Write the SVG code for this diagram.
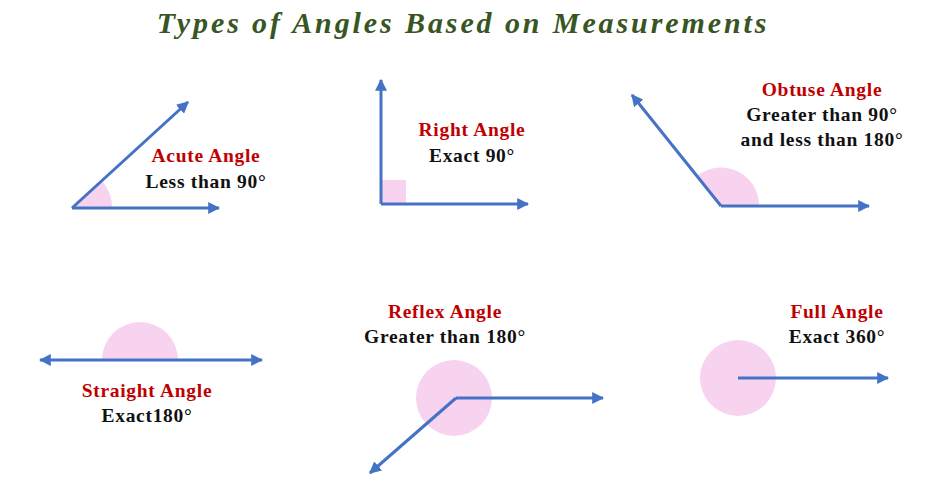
<svg xmlns="http://www.w3.org/2000/svg" width="945" height="499" viewBox="0 0 945 499">
<style>
.t{font-family:"Liberation Serif","DejaVu Serif",serif;font-weight:bold;font-size:19.5px;letter-spacing:0.7px;text-anchor:middle}
.r{fill:#c00000}.k{fill:#111}
.ln{stroke:#4472c4;stroke-width:3;fill:none;marker-end:url(#a)}
.p{fill:#f8d3f0}
</style>
<defs><marker id="a" viewBox="0 0 10 10" refX="9" refY="5" markerWidth="4" markerHeight="4" orient="auto" markerUnits="strokeWidth"><path d="M0,0L10,5L0,10z" fill="#4472c4"/></marker></defs>
<rect width="945" height="499" fill="#fff"/>
<text x="463" y="33" font-family="Liberation Serif,serif" font-style="italic" font-weight="bold" font-size="30" fill="#375623" text-anchor="middle" letter-spacing="2.9">Types of Angles Based on Measurements</text>
<g id="acute"><path class="p" d="M72,208L112,208A40,40 0 0 0 102,181Z"/>
<text class="t r" x="206" y="162">Acute Angle</text><text class="t k" x="206" y="188">Less than 90°</text></g>
<g id="right"><rect class="p" x="381" y="180" width="25" height="24"/>
<text class="t r" x="472" y="136">Right Angle</text><text class="t k" x="472" y="162">Exact 90°</text></g>
<g id="obtuse"><path class="p" d="M721,206L759,206A38,38 0 0 0 697,176Z"/>
<text class="t r" x="822" y="96">Obtuse Angle</text><text class="t k" x="822" y="121">Greater than 90°</text><text class="t k" x="822" y="146">and less than 180°</text></g>
<g id="straight"><path class="p" d="M102,360A38,38 0 0 1 178,360Z"/>
<text class="t r" x="147" y="397">Straight Angle</text><text class="t k" x="147" y="422">Exact180°</text></g>
<g id="reflex"><circle class="p" cx="454" cy="398" r="38"/>
<text class="t r" x="445" y="318">Reflex Angle</text><text class="t k" x="445" y="343">Greater than 180°</text></g>
<g id="full"><circle class="p" cx="738" cy="378" r="38"/>
<text class="t r" x="837" y="318">Full Angle</text><text class="t k" x="837" y="343">Exact 360°</text></g>
<g id="connectors">
<path class="ln" d="M72,208L219,208"/><path class="ln" d="M72,208L188,102"/>
<path class="ln" d="M381,204L381,80"/><path class="ln" d="M381,204L528,204"/>
<path class="ln" d="M721,206L869,206"/><path class="ln" d="M721,206L632,95"/>
<path class="ln" d="M140,360L40,360"/><path class="ln" d="M140,360L262,360"/>
<path class="ln" d="M456,398L603,398"/><path class="ln" d="M456,398L370,473"/>
<path class="ln" d="M738,378L888,378"/>
</g>
</svg>
